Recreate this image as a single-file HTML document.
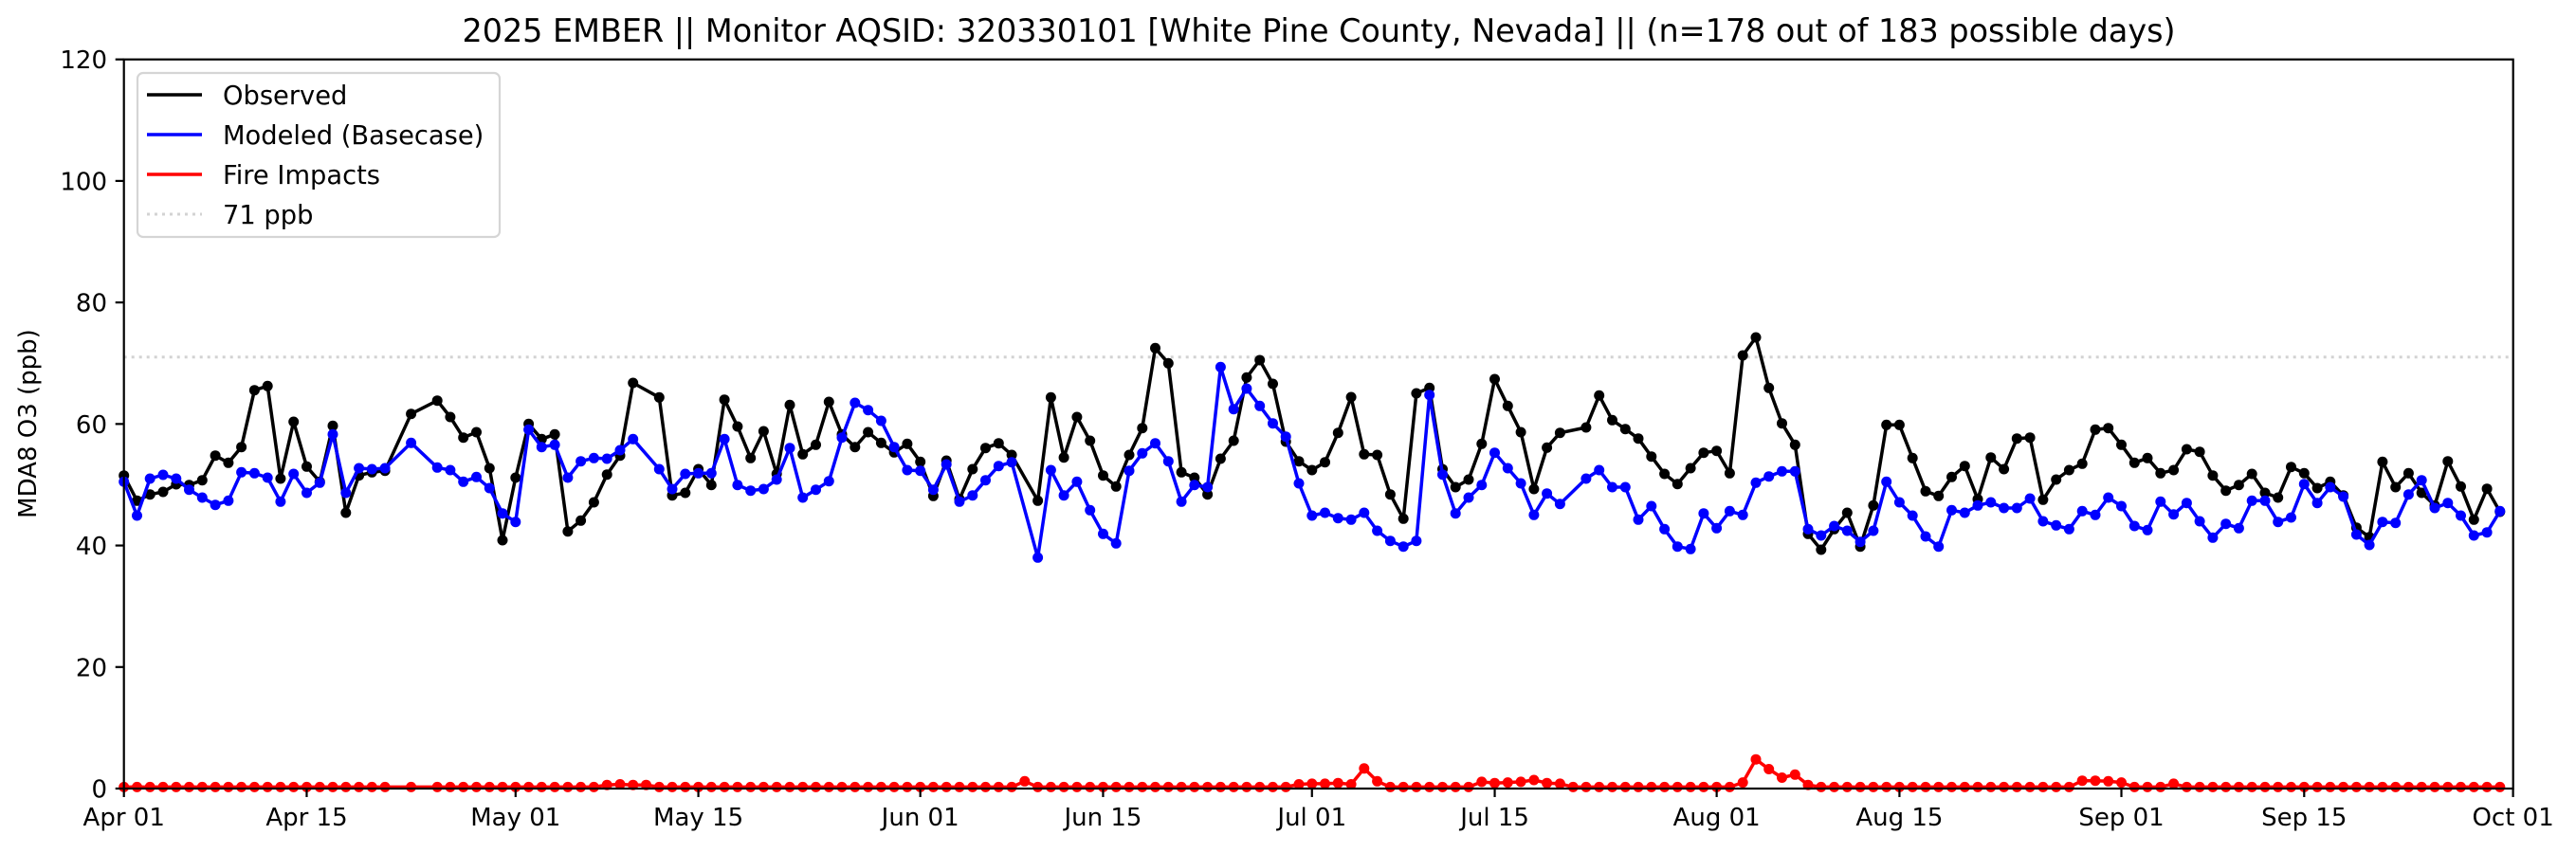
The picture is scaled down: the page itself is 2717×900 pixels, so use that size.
<!DOCTYPE html>
<html><head><meta charset="utf-8">
<style>
html,body{margin:0;padding:0;background:#fff;}
svg{display:block;font-family:"DejaVu Sans","Liberation Sans",sans-serif;}
</style></head>
<body>
<svg id="s" width="2717" height="900" viewBox="0 0 2717 900" xmlns="http://www.w3.org/2000/svg">
<rect width="2717" height="900" fill="#fff"/>
<text x="1391" y="44" font-size="33.4" text-anchor="middle">2025 EMBER || Monitor AQSID: 320330101 [White Pine County, Nevada] || (n=178 out of 183 possible days)</text>
<text transform="translate(38,447) rotate(-90)" font-size="26" text-anchor="middle">MDA8 O3 (ppb)</text>
<line x1="130.7" y1="376.8" x2="2650.7" y2="376.8" stroke="#d3d3d3" stroke-width="3" stroke-dasharray="3,5"/>
<g id="data"></g>
<rect x="130.7" y="62.7" width="2520" height="769.3" fill="none" stroke="#000" stroke-width="2.2"/>
<g id="ticks" font-size="26"></g>
<g>
<rect x="145" y="77" width="382" height="173" rx="6" fill="#fff" fill-opacity="0.8" stroke="#d5d5d5" stroke-width="2.2"/>
<line x1="155" y1="100" x2="213" y2="100" stroke="#000" stroke-width="3.5"/>
<line x1="155" y1="142" x2="213" y2="142" stroke="#0000ff" stroke-width="3.5"/>
<line x1="155" y1="184" x2="213" y2="184" stroke="#ff0000" stroke-width="3.5"/>
<line x1="155" y1="226" x2="213" y2="226" stroke="#d3d3d3" stroke-width="3" stroke-dasharray="3,5"/>
<text x="235" y="110" font-size="27.3">Observed</text>
<text x="235" y="152" font-size="27.3">Modeled (Basecase)</text>
<text x="235" y="194" font-size="27.3">Fire Impacts</text>
<text x="235" y="236" font-size="27.3">71 ppb</text>
</g>
</svg>
<script>
var NS="http://www.w3.org/2000/svg";
function X(d){return 130.7+13.77*d;}
function el(p,t,a){var e=document.createElementNS(NS,t);for(var k in a)e.setAttribute(k,a[k]);p.appendChild(e);return e;}
var obs=[[0,485],[1,565],[2,545],[3,537],[4,513],[5,515],[6,500],[7,422],[8,445],[9,395],[10,215],[11,202],[12,495],[13,315],[14,457],[15,505],[16,328],[17,603],[18,485],[19,475],[20,470],[22,290],[24,248],[25,300],[26,365],[27,348],[28,462],[29,690],[30,492],[31,322],[32,370],[33,355],[34,662],[35,628],[36,570],[37,482],[38,422],[39,192],[41,238],[42,548],[43,540],[44,465],[45,515],[46,245],
[47,330],[48,430],[49,345],[50,480],[51,262],[52,418],[53,388],[54,252],[55,355],[56,395],[57,348],[58,382],[59,412],[60,385],[61,442],[62,550],[63,438],[64,560],[65,465],[66,398],[67,383],[68,420],[70,565],[71,238],[72,428],[73,300],[74,375],[75,485],[76,520],[77,420],[78,335],[79,82],[80,130],[81,475],[82,492],[83,545],[84,432],[85,375],[86,175],[87,120],[88,195],[89,378],[90,440],[91,468],
[92,443],[93,350],[94,237],[95,418],[96,420],[97,545],[98,622],[99,225],[100,208],[101,465],[102,522],[103,498],[104,385],[105,180],[106,265],[107,348],[108,528],[109,397],[110,350],[112,333],[113,232],[114,310],[115,338],[116,368],[117,425],[118,480],[119,512],[120,462],[121,413],[122,407],[123,478],[124,105],[125,48],[126,208],[127,320],[128,388],[129,670],[130,720],[131,655],[132,603],[133,710],[134,580],[135,325],[136,325],
[137,430],[138,535],[139,550],[140,490],[141,455],[142,560],[143,428],[144,465],[145,368],[146,365],[147,562],[148,498],[149,468],[150,448],[151,340],[152,335],[153,388],[154,445],[155,430],[156,478],[157,468],[158,402],[159,410],[160,485],[161,533],[162,515],[163,480],[164,540],[165,555],[166,458],[167,478],[168,525],[169,505],[170,548],[171,650],[172,680],[173,442],[174,522],[175,478],[176,540],[177,580],[178,440],[179,520],[180,625],[181,527],[182,600]];
var mod=[[0,505],[1,612],[2,495],[3,483],[4,495],[5,530],[6,555],[7,578],[8,565],[9,475],[10,478],[11,492],[12,568],[13,480],[14,540],[15,508],[16,355],[17,540],[18,462],[19,465],[20,462],[22,382],[24,460],[25,468],[26,505],[27,490],[28,525],[29,605],[30,632],[31,340],[32,395],[33,388],[34,492],[35,440],[36,430],[37,432],[38,405],[39,370],[41,465],[42,528],[43,480],[44,478],[45,478],[46,370],
[47,515],[48,533],[49,528],[50,498],[51,398],[52,555],[53,530],[54,503],[55,365],[56,255],[57,278],[58,312],[59,395],[60,468],[61,470],[62,530],[63,450],[64,568],[65,548],[66,500],[67,455],[68,443],[70,745],[71,468],[72,548],[73,505],[74,595],[75,670],[76,700],[77,470],[78,415],[79,383],[80,440],[81,568],[82,515],[83,522],[84,142],[85,275],[86,210],[87,265],[88,320],[89,362],[90,510],[91,612],
[92,603],[93,620],[94,625],[95,603],[96,660],[97,692],[98,710],[99,692],[100,230],[101,482],[102,605],[103,555],[104,515],[105,413],[106,462],[107,510],[108,610],[109,542],[110,575],[112,495],[113,468],[114,522],[115,522],[116,625],[117,582],[118,655],[119,710],[120,718],[121,605],[122,652],[123,598],[124,610],[125,508],[126,488],[127,472],[128,472],[129,655],[130,675],[131,645],[132,660],[133,695],[134,660],[135,505],[136,570],
[137,612],[138,678],[139,710],[140,595],[141,603],[142,580],[143,570],[144,588],[145,588],[146,558],[147,630],[148,643],[149,655],[150,598],[151,610],[152,555],[153,582],[154,645],[155,658],[156,568],[157,608],[158,572],[159,630],[160,682],[161,638],[162,652],[163,565],[164,565],[165,632],[166,618],[167,512],[168,572],[169,522],[170,552],[171,672],[172,705],[173,632],[174,635],[175,545],[176,500],[177,588],[178,572],[179,612],[180,675],[181,665],[182,598]];
var fireSpec={37:0.6,38:0.7,39:0.6,40:0.6,69:1.2,95:3.3,96:1.2,104:1.1,105:0.9,106:1.0,107:1.1,108:1.4,109:0.9,110:0.8,124:1.0,125:4.8,126:3.2,127:1.8,128:2.3,129:0.6,150:1.3,151:1.3,152:1.2,153:1.0,157:0.8,90:0.7,91:0.8,92:0.8,93:0.9,94:0.7};
var fire=[];for(var d=0;d<183;d++){if(d==21||d==23)continue;var v=fireSpec[d]!==undefined?fireSpec[d]:0.25;fire.push([d,832-v*6.411]);}
var g=document.getElementById("data");
function series(arr,col,conv){var pts=arr.map(function(p){return [X(p[0]),conv?340+p[1]/3:p[1]];});
el(g,"polyline",{points:pts.map(function(p){return p[0].toFixed(1)+","+p[1].toFixed(1)}).join(" "),fill:"none",stroke:col,"stroke-width":3.5,"stroke-linejoin":"round"});
pts.forEach(function(p){el(g,"circle",{cx:p[0].toFixed(1),cy:p[1].toFixed(1),r:5.5,fill:col});});}
series(obs,"#000",true);series(mod,"#0000ff",true);series(fire,"#ff0000",false);
var t=document.getElementById("ticks");
[0,20,40,60,80,100,120].forEach(function(v){var y=832-v*6.411;el(t,"line",{x1:121.7,y1:y,x2:130.7,y2:y,stroke:"#000","stroke-width":2.2});var tx=el(t,"text",{x:113,y:y+9.5,"text-anchor":"end"});tx.textContent=v;});
[["Apr 01",0],["Apr 15",14],["May 01",30],["May 15",44],["Jun 01",61],["Jun 15",75],["Jul 01",91],["Jul 15",105],["Aug 01",122],["Aug 15",136],["Sep 01",153],["Sep 15",167],["Oct 01",183]].forEach(function(a){var x=X(a[1]);el(t,"line",{x1:x,y1:832,x2:x,y2:841,stroke:"#000","stroke-width":2.2});var tx=el(t,"text",{x:x,y:871,"text-anchor":"middle"});tx.textContent=a[0];});
</script>
</body></html>
